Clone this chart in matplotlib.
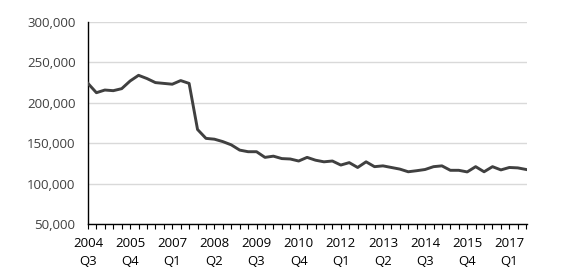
import numpy as np
import matplotlib.pyplot as plt
from matplotlib.ticker import FuncFormatter

# quarterly values, 2004 Q3 .. 2017 Q3
values = [224000, 212500, 215800, 215000, 217500, 227000, 234000, 230000,
          225000, 224000, 223000, 227500, 224000, 167000, 156000, 155000,
          152000, 148000, 141500, 139500, 139500, 132500, 134000, 131000,
          130500, 128000, 132500, 129000, 127000, 128000, 123000, 126000,
          120000, 127000, 121000, 122000, 120000, 118000, 114700, 116000,
          117500, 121000, 122000, 116500, 116500, 114500, 121000, 114700,
          121000, 117000, 120000, 119500, 117500]
years = [2004, 2005, 2007, 2008, 2009, 2010, 2012, 2013, 2014, 2015, 2017]
quarters = ['Q3', 'Q4', 'Q1', 'Q2', 'Q3', 'Q4', 'Q1', 'Q2', 'Q3', 'Q4', 'Q1']

plt.rcParams['font.family'] = ['Open Sans', 'DejaVu Sans']

fig = plt.figure(figsize=(5.8, 2.78), dpi=100)
ax = fig.add_axes([0.1517, 0.194, 0.757, 0.727])

x = np.arange(len(values))
ax.plot(x, values, color='#404040', linewidth=2.1, solid_joinstyle='round', zorder=3)

ax.set_ylim(50000, 300000)
ax.set_yticks(np.arange(50000, 300001, 50000))
ax.yaxis.set_major_formatter(FuncFormatter(lambda v, p: f'{int(v):,}'))
ax.set_xlim(0, 52.1)

labels = [''] * len(values)
for i, (y, q) in enumerate(zip(years, quarters)):
    labels[i * 5] = f'{y}\n{q}'
ax.set_xticks(x)
ax.set_xticklabels(labels, fontsize=9.5, linespacing=1.5)

ax.grid(axis='y', color='#d9d9d9', linewidth=1.0, zorder=0)
ax.set_axisbelow(True)
for s in ['top', 'right']:
    ax.spines[s].set_visible(False)
ax.spines['left'].set_color('black')
ax.spines['bottom'].set_color('black')
ax.spines['left'].set_linewidth(1.0)
ax.spines['bottom'].set_linewidth(1.0)

ax.tick_params(axis='y', length=0, pad=9, labelsize=9.5, labelcolor='#404040')
ax.tick_params(axis='x', length=3.5, width=0.8, direction='out', pad=6,
               labelcolor='black')

fig.savefig('out.png', dpi=100)
